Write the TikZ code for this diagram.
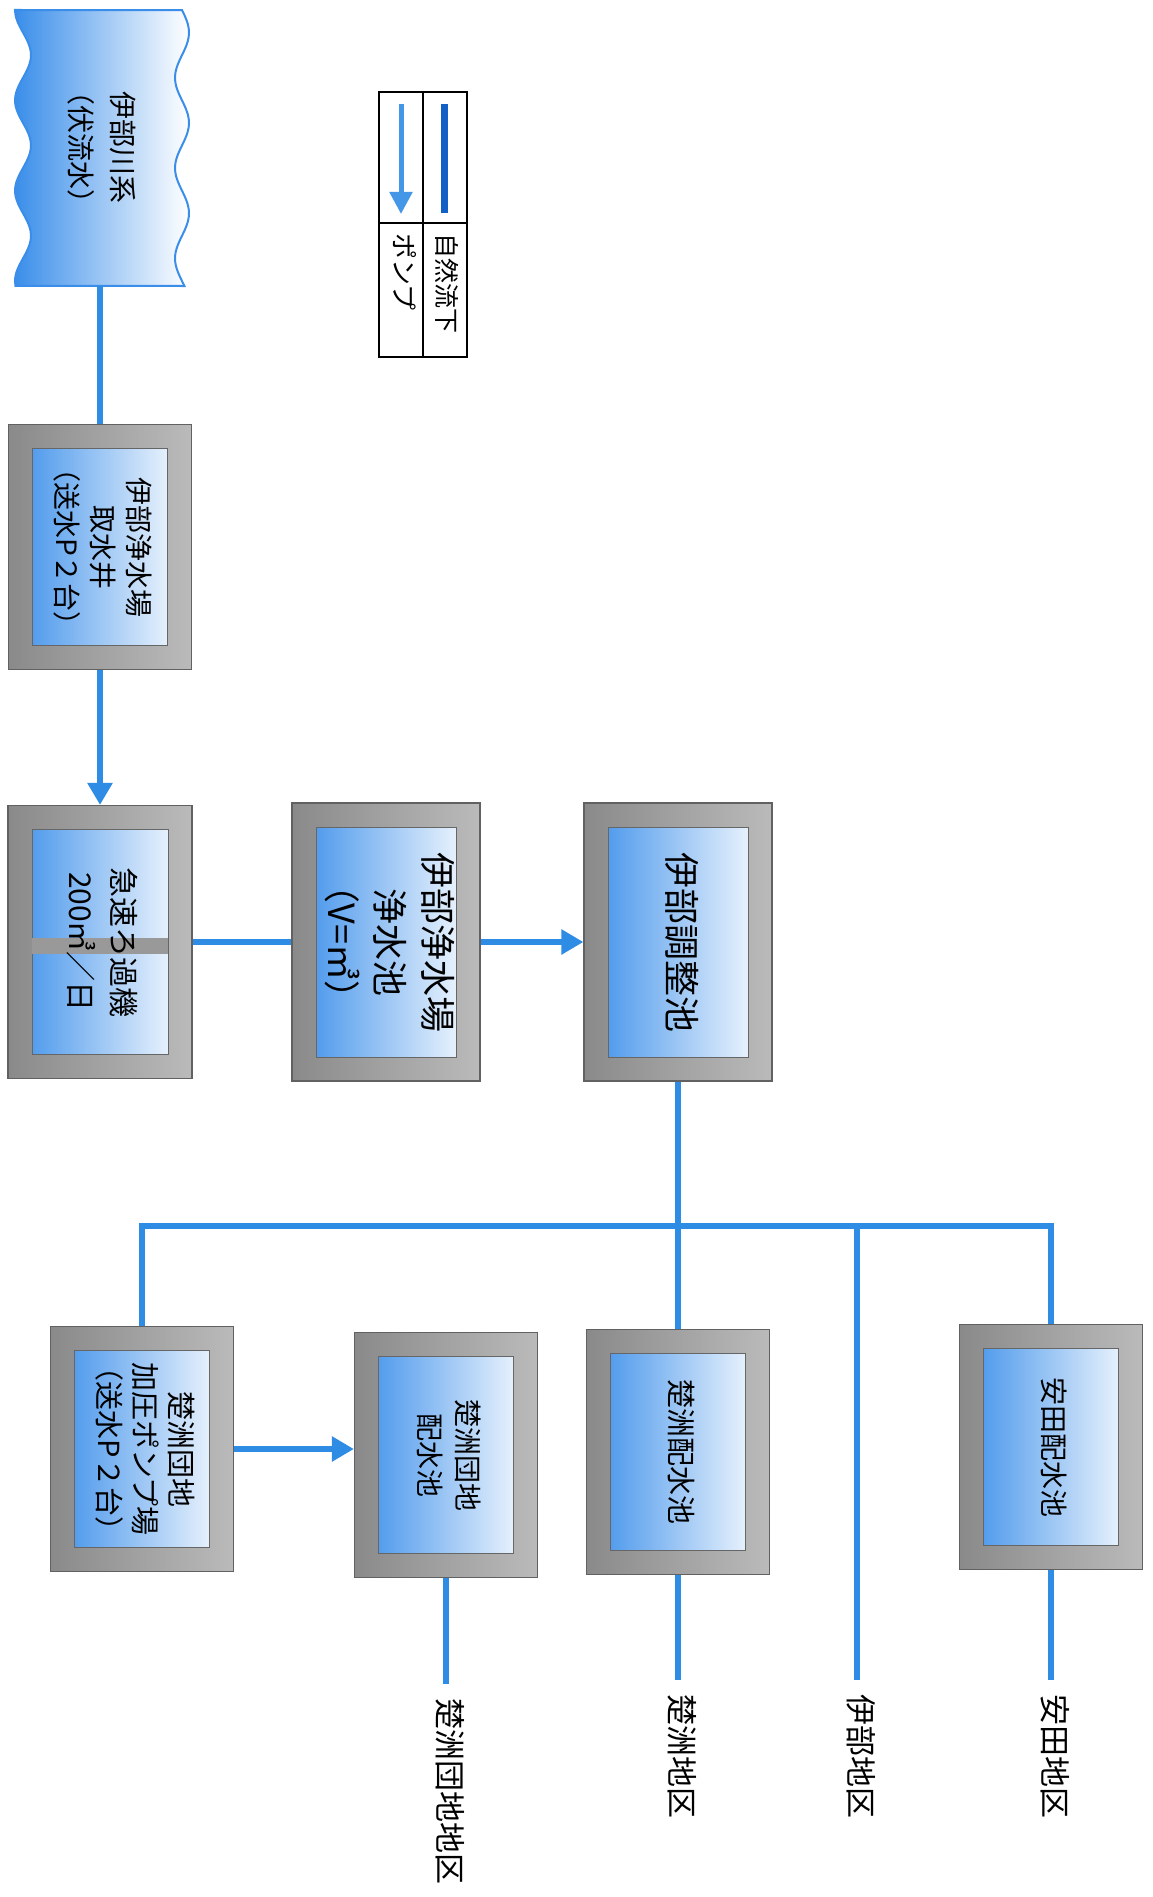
\documentclass[tikz,border=0pt]{standalone}
\usepackage{fontspec}
\setmainfont{Noto Sans CJK JP}
\usetikzlibrary{arrows.meta,positioning}
\definecolor{pipeblue}{HTML}{2F8CE4}
\definecolor{flowblue}{HTML}{1260C6}
\definecolor{waterblue}{HTML}{3A8EEA}
% text turned a quarter clockwise, as in the drawing
\newcommand{\vtext}[3]{\rotatebox{-90}{\fontsize{#1}{#2}\selectfont\begin{tabular}{@{}c@{}}#3\end{tabular}}}
\newcommand{\innerpanel}{\shade[left color=waterblue, middle color=waterblue!70!white, right color=white, draw=black!60, line width=1pt]
  ([shift={(24pt,-24pt)}]path picture bounding box.north west) rectangle ([shift={(-24pt,24pt)}]path picture bounding box.south east);}

\begin{document}
\begin{tikzpicture}[
    x=1pt, y=-1pt,
    plant/.style={
        rectangle,
        draw=black!62,
        line width=1.2pt,
        left color=black!46,
        right color=black!27,
        inner sep=0pt,
        minimum width=183,
        minimum height=245,
        path picture={\innerpanel}
    },
    bigplant/.style={plant, minimum width=188, minimum height=278},
    cutplant/.style={plant, minimum width=184, minimum height=273,
        path picture={\innerpanel
          \fill[black!40] ([shift={(24pt,4pt)}]path picture bounding box.west) rectangle ([shift={(-24pt,-12pt)}]path picture bounding box.east);}},
    area/.style={inner sep=14pt, anchor=north},
    pipe/.style={draw=pipeblue, line width=6pt},
    pump/.style={pipe, -{Triangle[length=22pt,width=24pt]}}]

    \fill[white] (0,0) rectangle (1152,1897);
    \useasboundingbox (0,0) rectangle (1152,1897);

    % source
    \shade[left color=waterblue, right color=white, draw=waterblue, line width=2pt]
      plot[smooth, domain=0:1, samples=41] ({23-8*cos(1100*\x)}, {10+276*\x})
      -- plot[smooth, domain=1:0, samples=41] ({182+7*sin(1100*\x)}, {10+276*\x}) -- cycle;
    \node[inner sep=0pt, minimum width=170, minimum height=276] (river) at (100,148) {\vtext{28}{42}{伊部川系\\（伏流水）}};

    % plants and tanks
    \node[plant] (well) at (100,547) {\vtext{28}{36}{伊部浄水場\\取水井\\（送水P２台）}};
    \node[cutplant] (filter) at (100,942) {\vtext{30}{43}{急速ろ過機\\200㎥／日}};
    \node[bigplant] (clear) at (386,942) {\vtext{36}{48}{伊部浄水場\\浄水池\\（V=㎥）}};
    \node[bigplant] (adjust) at (678,942) {\vtext{36}{48}{伊部調整池}};
    \node[plant] (booster) at (142,1449) {\vtext{29}{36}{楚洲団地\\加圧ポンプ場\\（送水P２台）}};
    \node[plant] (dtank) at (446,1455) {\vtext{28}{38}{楚洲団地\\配水池}};
    \node[plant] (stank) at (678,1452) {\vtext{29}{36}{楚洲配水池}};
    \node[plant] (atank) at (1051,1447) {\vtext{28}{36}{安田配水池}};

    % served areas
    \node[area] (dzone) at (446,1684) {\vtext{31}{36}{楚洲団地地区}};
    \node[area] (szone) at (678,1680) {\vtext{31}{36}{楚洲地区}};
    \node[area] (izone) at (857,1680) {\vtext{31}{36}{伊部地区}};
    \node[area] (azone) at (1051,1680) {\vtext{31}{36}{安田地区}};

    \coordinate (tee) at (678,1226);
    \coordinate (ibe) at (857,1226);

    \path
     (river) edge[pipe] (well)
     (well) edge[pump] (filter)
     (filter) edge[pipe] (clear)
     (clear) edge[pump] (adjust)
     (adjust) edge[pipe] (stank)
     (ibe) edge[pipe] (izone)
     (dtank) edge[pipe] (dzone)
     (stank) edge[pipe] (szone)
     (atank) edge[pipe] (azone);
    \draw[pipe] (booster) |- (tee) -| (atank);
    \draw[pump] (booster.east) -- (booster.east -| dtank.west);

    % legend
    \node[draw, line width=1.5pt, inner sep=0pt, minimum width=88, minimum height=265] (legend) at (423,224.5) {};
    \draw[line width=1.5pt] (legend.north) -- (legend.south);
    \draw[line width=1.5pt] (legend.west |- 0,223) -- (legend.east |- 0,223);
    \coordinate (flow a) at (444,104);
    \coordinate (flow b) at (444,213);
    \coordinate (pump a) at (401,104);
    \coordinate (pump b) at (401,214);
    \draw[draw=flowblue, line width=7pt] (flow a) -- (flow b);
    \draw[draw=pipeblue!90!white, line width=5pt, -{Triangle[length=22pt,width=22pt]}] (pump a) -- (pump b);
    \node[anchor=north, inner sep=6pt] (flow key) at (444,227) {\vtext{25}{30}{自然流下}};
    \node[anchor=north, inner sep=6pt] (pump key) at (401,227) {\vtext{26}{30}{ポンプ}};
\end{tikzpicture}
\end{document}
